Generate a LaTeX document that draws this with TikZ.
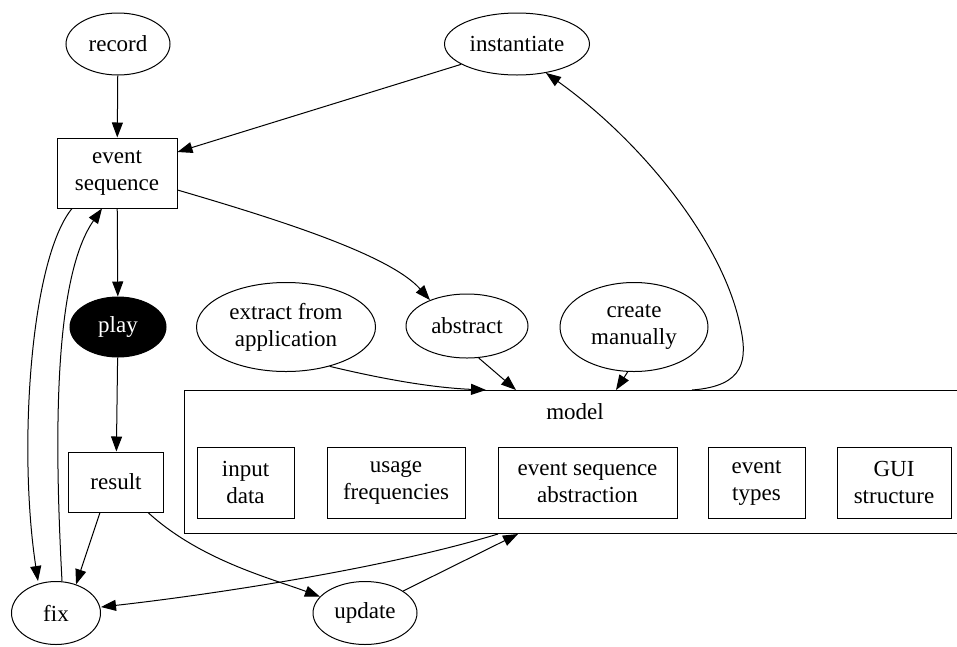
\documentclass[tikz,border=0pt]{standalone}
\usepackage{fontspec}
\setmainfont{Liberation Serif}
\usetikzlibrary{shapes.geometric,arrows.meta}
\begin{document}
\begin{tikzpicture}[x=1pt,y=-1pt,
  font=\fontsize{23}{27}\selectfont,
  every node/.style={align=center,inner sep=0pt},
  ell/.style={draw,ellipse,line width=1pt},
  box/.style={draw,rectangle,line width=1pt},
  arr/.style={-{Triangle[length=15pt,width=11pt]},line width=1pt}]
\useasboundingbox (0,0) rectangle (957,646);
\clip (0,0) rectangle (957,646);
% nodes
\node[ell,minimum width=104pt,minimum height=62pt] (record) at (118,44) {record};
\node[ell,minimum width=145pt,minimum height=62pt] (inst) at (517,44) {instantiate};
\node[box,minimum width=120pt,minimum height=70pt] (evseq) at (117,173) {event\\sequence};
\node[ell,fill=black,text=white,minimum width=96pt,minimum height=60pt] (play) at (118,327) {play};
\node[box,minimum width=95pt,minimum height=60pt] (result) at (116,482) {result};
\node[ell,minimum width=89pt,minimum height=63pt] (fix) at (56,613) {fix};
\node[ell,minimum width=104pt,minimum height=63pt] (update) at (365,613) {update};
\node[ell,minimum width=179pt,minimum height=89pt] (extract) at (286,327) {extract from\\application};
\node[ell,minimum width=122pt,minimum height=64pt] (abstract) at (467,326) {abstract};
\node[ell,minimum width=148pt,minimum height=89pt] (create) at (634,327) {create\\manually};
\node[box,minimum width=800pt,minimum height=143pt,anchor=north west] (model) at (184,390) {};
\node (modellabel) at (575,412) {model};
\node[box,minimum width=97pt,minimum height=71pt] (input) at (245.5,482.5) {input\\data};
\node[box,minimum width=138pt,minimum height=71pt] (usage) at (396,482.5) {usage\\frequencies};
\node[box,minimum width=179pt,minimum height=71pt] (esa) at (587.5,482.5) {event sequence\\abstraction};
\node[box,minimum width=97pt,minimum height=71pt] (types) at (756.5,482.5) {event\\types};
\node[box,minimum width=114pt,minimum height=71pt] (gui) at (894,482.5) {GUI\\structure};
% anchor coordinates on model
\coordinate (mExtract) at (model.north -| 486,0);
\coordinate (mAbstract) at (model.north -| 516,0);
\coordinate (mCreate) at (model.north -| 616,0);
\coordinate (mInst) at (model.north -| 692,0);
\coordinate (mFix) at (model.south -| 498,0);
\coordinate (mUpdate) at (model.south -| 518,0);
% edges
\draw[arr] (record) -- (evseq);
\draw[arr] (inst.200) -- (evseq.north east |- 0,152);
\draw[arr] (evseq) -- (play);
\draw[arr] (play) -- (result);
\draw[arr] (evseq.east |- 0,190) .. controls (280,220) and (390,255) .. (abstract.145);
\draw[arr] (evseq.south west -| 72,0) .. controls (30,260) and (18,450) .. (fix.north -| 38,0);
\draw[arr] (fix.north -| 62,0) .. controls (55,450) and (52,280) .. (evseq.south -| 102,0);
\draw[arr] (result.south -| 100,0) -- (fix.55);
\draw[arr] (result.south -| 148,0) .. controls (200,560) and (270,578) .. (update.160);
\draw[arr] (mFix) .. controls (380,570) and (200,596) .. (fix.east |- 0,607);
\draw[arr] (update.30) -- (mUpdate);
\draw[arr] (extract.318) .. controls (395,382) and (440,388) .. (mExtract);
\draw[arr] (abstract.290) -- (mAbstract);
\draw[arr] (create.262) -- (mCreate);
\draw[arr] (mInst) .. controls (745,386) and (748,360) .. (740,325) .. controls (722,240) and (640,140) .. (inst.315);
\end{tikzpicture}
\end{document}
